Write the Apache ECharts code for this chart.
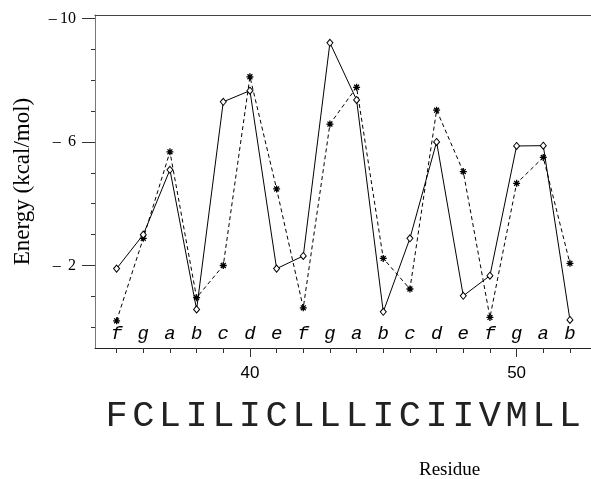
<!DOCTYPE html>
<html>
<head>
<meta charset="utf-8">
<script src="https://cdn.jsdelivr.net/npm/echarts@6/dist/echarts.min.js"></script>
<style>html,body{margin:0;padding:0;background:#fff;}#c{width:591px;height:479px;}</style>
</head>
<body>
<div id="c"></div>
<script>
const residues = [35,36,37,38,39,40,41,42,43,44,45,46,47,48,49,50,51,52];
const heptad = ['f','g','a','b','c','d','e','f','g','a','b','c','d','e','f','g','a','b'];
const sequence = ['F','C','L','I','L','I','C','L','L','L','I','C','I','I','V','M','L','L'];
const solidEnergy = [-1.9,-3.0,-5.1,-0.58,-7.3,-7.66,-1.9,-2.31,-9.21,-7.36,-0.5,-2.88,-6.0,-1.02,-1.67,-5.87,-5.88,-0.24];
const dashedEnergy = [-0.21,-2.88,-5.68,-0.96,-2.0,-8.11,-4.48,-0.63,-6.58,-7.77,-2.23,-1.24,-7.03,-5.04,-0.32,-4.66,-5.5,-2.07];
const xTickLabels = [40,50];
const yTickLabels = [-10,-6,-2];
const yMinorTicks = [-9,-8,-7,-5,-4,-3,-1,0];

const chart = echarts.init(document.getElementById('c'), null, {renderer:'canvas'});
const xMin = 34.19, xMax = 52.79;
const yMin = -10.11, yMax = 0.67;
const asterisk = 'path://M0,5L10,5M5,0L5,10M1.5,1.5L8.5,8.5M8.5,1.5L1.5,8.5';

function pairs(vals){ return residues.map((r,i)=>[r, vals[i]]); }

const option = {
  animation:false,
  backgroundColor:'#fff',
  title:{
    text:'Residue', left:414, top:456,
    textStyle:{fontFamily:'Liberation Serif', fontSize:19, fontWeight:'normal', color:'#000'}
  },
  grid:{left:95, right:0, top:15, bottom:131, containLabel:false},
  xAxis:[
    { type:'value', min:xMin, max:xMax, position:'bottom',
      axisLine:{show:true, onZero:false, lineStyle:{color:'#222', width:1}},
      axisTick:{show:true, customValues:xTickLabels, length:9, lineStyle:{color:'#333'}},
      axisLabel:{show:true, customValues:xTickLabels, margin:17, fontFamily:'Liberation Sans', fontSize:17, color:'#000'},
      splitLine:{show:false} },
    { type:'value', min:xMin, max:xMax, position:'bottom',
      axisLine:{show:false, onZero:false},
      axisTick:{show:true, customValues:residues, length:5, lineStyle:{color:'#333'}},
      axisLabel:{show:false}, splitLine:{show:false} },
    { type:'value', min:xMin, max:xMax, position:'bottom',
      axisLine:{show:false, onZero:false}, axisTick:{show:false}, splitLine:{show:false},
      axisLabel:{show:true, customValues:residues, margin:50, verticalAlign:'top',
        fontFamily:'Liberation Mono', fontSize:37, color:'#222',
        formatter:function(v){ return sequence[residues.indexOf(Math.round(v))] || ''; } } },
    { type:'value', min:xMin, max:xMax, position:'bottom',
      axisLine:{show:false, onZero:false}, axisTick:{show:false}, splitLine:{show:false},
      axisLabel:{show:true, inside:true, customValues:residues, margin:5,
        fontFamily:'Liberation Mono', fontStyle:'italic', fontSize:19, color:'#000',
        formatter:function(v){ return heptad[residues.indexOf(Math.round(v))] || ''; } } },
    { type:'value', min:xMin, max:xMax, position:'top',
      axisLine:{show:true, onZero:false, lineStyle:{color:'#444', width:1.2}},
      axisTick:{show:false}, axisLabel:{show:false}, splitLine:{show:false} }
  ],
  yAxis:[
    { type:'value', inverse:true, min:yMin, max:yMax, position:'left',
      axisLine:{show:true, onZero:false, lineStyle:{color:'#777', width:1}},
      axisTick:{show:true, customValues:yTickLabels, length:13, lineStyle:{color:'#333'}},
      axisLabel:{show:true, customValues:yTickLabels, margin:19,
        fontFamily:'Liberation Serif', fontSize:16, color:'#000',
        formatter:function(v){ const a=Math.abs(Math.round(v)); return '\u2013' + (a<10 ? '\u2009 ' : '\u2009') + a; } },
      name:'Energy (kcal/mol)', nameLocation:'middle', nameGap:61, nameRotate:90,
      nameTextStyle:{fontFamily:'Liberation Serif', fontSize:23, color:'#000'},
      splitLine:{show:false} },
    { type:'value', inverse:true, min:yMin, max:yMax, position:'left',
      axisLine:{show:false, onZero:false},
      axisTick:{show:true, customValues:yMinorTicks, length:4, lineStyle:{color:'#333'}},
      axisLabel:{show:false}, splitLine:{show:false} }
  ],
  series:[
    { type:'line', name:'solid', xAxisIndex:0, yAxisIndex:0, data:pairs(solidEnergy),
      symbol:'diamond', symbolSize:[6,7], showAllSymbol:true,
      lineStyle:{color:'#000', width:1, type:'solid'},
      itemStyle:{color:'#fff', borderColor:'#000', borderWidth:1},
      z:3 },
    { type:'line', name:'dashed', xAxisIndex:0, yAxisIndex:0, data:pairs(dashedEnergy),
      symbol:asterisk, symbolSize:7, showAllSymbol:true,
      lineStyle:{color:'#000', width:1, type:[4,3]},
      itemStyle:{color:'#000', borderColor:'#000', borderWidth:1.3},
      z:2 }
  ]
};
chart.setOption(option);
</script>
</body>
</html>
